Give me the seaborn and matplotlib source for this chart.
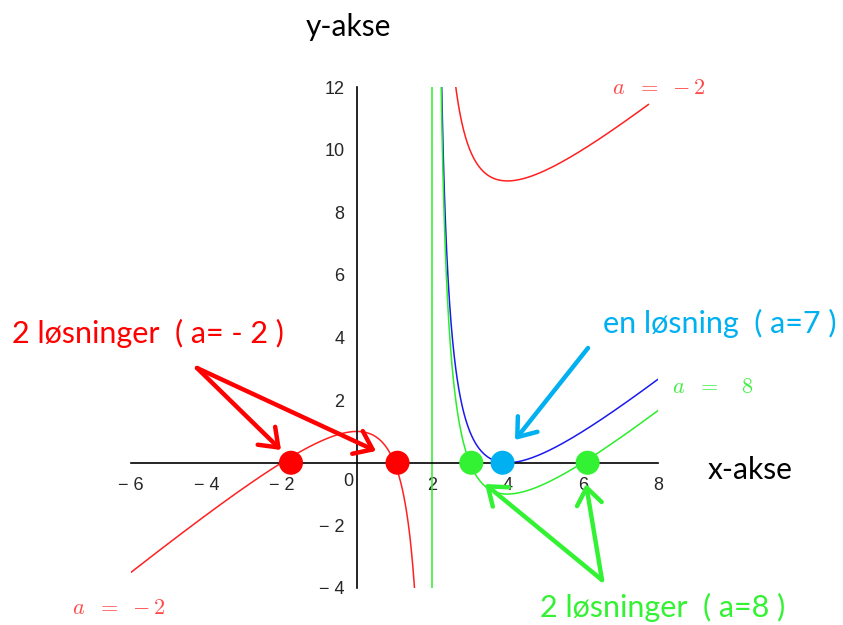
import numpy as np
import pandas as pd
import matplotlib
matplotlib.use("Agg")
import matplotlib.pyplot as plt
import seaborn as sns

# Parameter values a and their curve colours
a_values = [-2, 7, 8]
curve_colors = {-2: "#ff2020", 7: "#1a1aee", 8: "#2aee2a"}
# x-intervals drawn for each branch, on either side of the asymptote x = 2
branches = {
    -2: [(-6.0, 1.995), (2.005, 7.75)],
    7: [(2.005, 8.0)],
    8: [(2.005, 8.0)],
}
asymptote_x = 2

# Marked solutions on the x-axis
red_roots = [-1.75, 1.08]
blue_roots = [3.87]
green_roots = [3.04, 6.13]

x_ticks = [-6, -4, -2, 2, 4, 6, 8]
y_ticks = [-4, -2, 2, 4, 6, 8, 10, 12]


def f(x, a):
    return x ** 2 / (x - 2) - a - 1


rows = []
for a in a_values:
    for i, (x0, x1) in enumerate(branches[a]):
        xs = np.linspace(x0, x1, 600)
        rows.append(pd.DataFrame({"x": xs, "y": f(xs, a), "a": a, "branch": i}))
curves = pd.concat(rows, ignore_index=True)

sns.set_style("white")
plt.rcParams["mathtext.fontset"] = "cm"

W, H = 843, 625
fig = plt.figure(figsize=(W / 100, H / 100), dpi=100)
ax = fig.add_axes([131 / W, (H - 588) / H, 527 / W, 501 / H])
ax.set_facecolor("none")


def px(x, y):
    return (x / W, (H - y) / H)


for (a, b), sub in curves.groupby(["a", "branch"]):
    sns.lineplot(data=sub, x="x", y="y", color=curve_colors[a], lw=1.1,
                 estimator=None, sort=False, ax=ax)
ax.axvline(asymptote_x, color=curve_colors[8], lw=1.1)

ax.set_xlim(-6, 8)
ax.set_ylim(-4, 12)
ax.set_xlabel("")
ax.set_ylabel("")

for side in ["top", "right"]:
    ax.spines[side].set_visible(False)
for side in ["left", "bottom"]:
    ax.spines[side].set_position(("data", 0))
    ax.spines[side].set_color("black")
    ax.spines[side].set_linewidth(1.2)

tick_font = dict(family="Liberation Sans", size=13)
ax.set_xticks(x_ticks)
ax.set_xticklabels([str(t).replace("-", "\u2212 ") for t in x_ticks], **tick_font)
ax.set_yticks(y_ticks)
ax.set_yticklabels([str(t).replace("-", "\u2212 ") for t in y_ticks], **tick_font)
ax.set_xticks(range(-5, 8, 2), minor=True)
ax.set_yticks(range(-3, 12, 2), minor=True)
ax.tick_params(which="major", direction="out", length=5, width=1.1, color="black", pad=5)
ax.tick_params(which="minor", direction="out", length=3.5, width=1.1, color="black")
ax.tick_params(axis="y", which="major", pad=4)
fig.text(*px(348, 481), "0", ha="center", va="center", **tick_font)

# Marked solutions
sns.scatterplot(x=red_roots, y=[0] * len(red_roots), s=300, color="#ff0000",
                edgecolor="none", zorder=6, clip_on=False, ax=ax)
sns.scatterplot(x=green_roots, y=[0] * len(green_roots), s=300, color="#33f233",
                edgecolor="none", zorder=6, clip_on=False, ax=ax)
sns.scatterplot(x=blue_roots, y=[0] * len(blue_roots), s=300, color="#00b0f0",
                edgecolor="none", zorder=7, clip_on=False, ax=ax)


def arrow(start, end, color):
    ax.annotate("", xy=(end[0], H - end[1]), xytext=(start[0], H - start[1]),
                xycoords="figure pixels", textcoords="figure pixels",
                annotation_clip=False,
                arrowprops=dict(arrowstyle="->,head_length=0.6,head_width=0.45",
                                mutation_scale=20, color=color, lw=3.2,
                                shrinkA=0, shrinkB=0), zorder=8)


arrow((197, 368), (281, 450), "#ff0000")
arrow((197, 368), (376, 451), "#ff0000")
arrow((588, 348), (515, 440), "#00b0f0")
arrow((602, 580), (485, 484), "#33f233")
arrow((602, 580), (586, 484), "#33f233")

# Axis names and annotations
fig.text(*px(348, 36), "y-akse", family="Lato", size=21.5, color="black",
         ha="center", va="baseline")
fig.text(*px(750, 479), "x-akse", family="Lato", size=21.5, color="black",
         ha="center", va="baseline")
fig.text(*px(148, 343), "2 løsninger  ( a= - 2 )", family="Lato", size=22,
         color="#ff0000", ha="center", va="baseline")
fig.text(*px(720, 333), "en løsning  ( a=7 )", family="Lato", size=22,
         color="#00b0f0", ha="center", va="baseline")
fig.text(*px(540, 617), "2 løsninger  ( a=8 )", family="Lato", size=22,
         color="#33f233", ha="left", va="baseline")

# Curve labels
fig.text(*px(612, 88), r"$a\ \ =\ -2$", size=16, color="#ff4a4a", va="center")
fig.text(*px(72, 608), r"$a\ \ =\ -2$", size=16, color="#ff4a4a", va="center")
fig.text(*px(672, 387), r"$a\ \ =\ \ \ 8$", size=16, color="#44ee44", va="center")

fig.savefig("out.png", dpi=100)
